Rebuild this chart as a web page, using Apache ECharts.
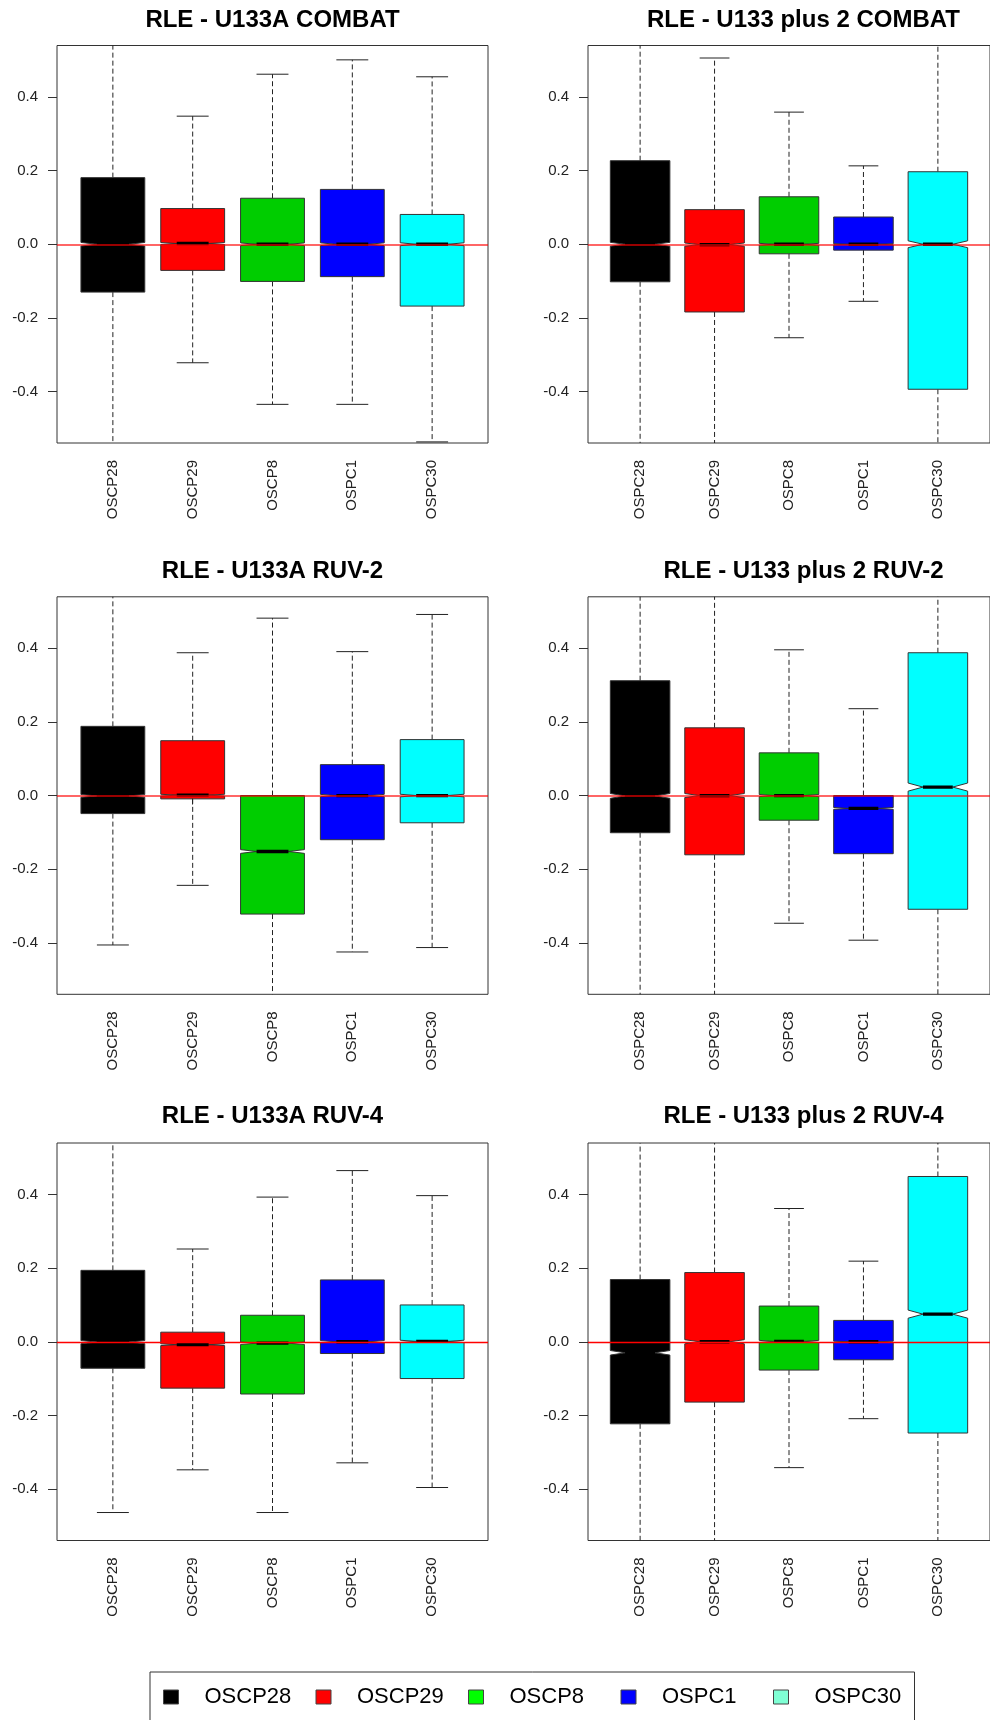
<!DOCTYPE html>
<html><head><meta charset="utf-8">
<script src="https://cdn.jsdelivr.net/npm/echarts@6/dist/echarts.min.js"></script>
<style>html,body{margin:0;padding:0;background:#fff}#c{width:990px;height:1720px}</style>
</head><body><div id="c"></div>
<script>
// ---------- data ----------
const leftCategories = ['OSCP28', 'OSCP29', 'OSCP8', 'OSPC1', 'OSPC30'];
const rightCategories = ['OSPC28', 'OSPC29', 'OSPC8', 'OSPC1', 'OSPC30'];
const legendNames = ['OSCP28', 'OSCP29', 'OSCP8', 'OSPC1', 'OSPC30'];
const boxColors = ['#000000', '#FF0000', '#00CD00', '#0000FF', '#00FFFF'];
const legendColors = ['#000000', '#FF0000', '#00FF00', '#0000FF', '#7FFFD4'];
const yTicks = [-0.4, -0.2, 0.0, 0.2, 0.4];
const panelTitles = [
  'RLE - U133A COMBAT', 'RLE - U133 plus 2 COMBAT',
  'RLE - U133A RUV-2', 'RLE - U133 plus 2 RUV-2',
  'RLE - U133A RUV-4', 'RLE - U133 plus 2 RUV-4'
];
// each row: [lower whisker, Q1, median, Q3, upper whisker]
const u133aCombat = [
  [-0.70, -0.130, 0.000, 0.181, 0.70],
  [-0.322, -0.071, 0.002, 0.097, 0.348],
  [-0.435, -0.101, 0.000, 0.125, 0.462],
  [-0.435, -0.088, 0.000, 0.149, 0.501],
  [-0.537, -0.168, 0.000, 0.081, 0.455]
];
const u133plus2Combat = [
  [-0.70, -0.102, 0.000, 0.227, 0.70],
  [-0.70, -0.184, -0.001, 0.094, 0.506],
  [-0.254, -0.026, 0.000, 0.129, 0.359],
  [-0.155, -0.016, 0.000, 0.074, 0.213],
  [-0.70, -0.394, 0.000, 0.197, 0.70]
];
const u133aRuv2 = [
  [-0.406, -0.049, -0.001, 0.188, 0.70],
  [-0.244, -0.009, 0.001, 0.149, 0.388],
  [-0.70, -0.322, -0.152, 0.000, 0.482],
  [-0.425, -0.120, 0.000, 0.084, 0.391],
  [-0.413, -0.074, 0.000, 0.152, 0.492]
];
const u133plus2Ruv2 = [
  [-0.70, -0.101, -0.001, 0.312, 0.70],
  [-0.70, -0.161, 0.000, 0.184, 0.70],
  [-0.347, -0.067, 0.000, 0.116, 0.396],
  [-0.393, -0.158, -0.035, 0.000, 0.236],
  [-0.70, -0.309, 0.023, 0.388, 0.70]
];
const u133aRuv4 = [
  [-0.464, -0.072, -0.001, 0.194, 0.70],
  [-0.348, -0.126, -0.008, 0.026, 0.252],
  [-0.464, -0.142, -0.004, 0.072, 0.393],
  [-0.329, -0.032, 0.000, 0.168, 0.465],
  [-0.396, -0.100, 0.001, 0.100, 0.397]
];
const u133plus2Ruv4 = [
  [-0.70, -0.223, -0.030, 0.169, 0.70],
  [-0.70, -0.164, 0.000, 0.188, 0.70],
  [-0.342, -0.077, 0.001, 0.097, 0.362],
  [-0.209, -0.049, 0.000, 0.058, 0.219],
  [-0.70, -0.248, 0.075, 0.449, 0.70]
];
const panels = [u133aCombat, u133plus2Combat, u133aRuv2, u133plus2Ruv2, u133aRuv4, u133plus2Ruv4];
const sampleSize = 10000;   // used for R-style notch half-height
const referenceLine = 0;

// ---------- layout ----------
const FONT = '"Liberation Sans", Arial, Helvetica, sans-serif';
const colLeft = [57, 588];
const rowTop = [45.5, 596.8, 1143];
const plotW = 431, plotH = 397.5;
const titleCenterY = [20, 571.7, 1116.7];
const zeroLineStyle = [
  { color: 'rgba(255,0,0,0.6)', width: 2 },
  { color: 'rgba(255,0,0,0.6)', width: 2 },
  { color: '#FF0000', width: 1.3 }
];
const halfBox = 0.4, halfStaple = 0.2;

function renderBox(params, api) {
  const x = api.value(0);
  const lo = api.value(1), q1 = api.value(2), med = api.value(3), q3 = api.value(4), hi = api.value(5);
  const nh = 1.58 * (q3 - q1) / Math.sqrt(sampleSize);
  const P = (xx, yy) => api.coord([xx, yy]);
  const col = boxColors[params.dataIndex];
  const kids = [];
  const seg = (a, b, style) => ({ type: 'line', shape: { x1: a[0], y1: a[1], x2: b[0], y2: b[1] }, style: style });
  const dash = { stroke: '#222', lineWidth: 1, lineDash: [5, 3] };
  const solid = { stroke: '#222', lineWidth: 1 };
  kids.push(seg(P(x, q3), P(x, hi), dash));
  kids.push(seg(P(x, q1), P(x, lo), dash));
  kids.push(seg(P(x - halfStaple, hi), P(x + halfStaple, hi), solid));
  kids.push(seg(P(x - halfStaple, lo), P(x + halfStaple, lo), solid));
  const pts = [
    [x - halfBox, q1], [x - halfBox, med - nh], [x - halfBox / 2, med], [x - halfBox, med + nh], [x - halfBox, q3],
    [x + halfBox, q3], [x + halfBox, med + nh], [x + halfBox / 2, med], [x + halfBox, med - nh], [x + halfBox, q1]
  ].map(p => P(p[0], p[1]));
  kids.push({ type: 'polygon', shape: { points: pts }, style: { fill: col, stroke: '#333', lineWidth: 1 } });
  kids.push(seg(P(x - halfBox / 2, med), P(x + halfBox / 2, med), { stroke: '#000', lineWidth: 3.3 }));
  return { type: 'group', children: kids };
}

const grid = [], xAxis = [], yAxis = [], series = [], title = [];
panels.forEach((panel, k) => {
  const col = k % 2, row = Math.floor(k / 2);
  const cats = col === 0 ? leftCategories : rightCategories;
  grid.push({ left: colLeft[col], top: rowTop[row], width: plotW, height: plotH, show: true,
    borderColor: '#333', borderWidth: 1, backgroundColor: 'transparent', containLabel: false });
  xAxis.push({ type: 'value', gridIndex: k, min: 0.3, max: 5.7, splitLine: { show: false },
    axisLine: { show: false },
    axisTick: { show: true, length: 9, lineStyle: { color: '#333' }, customValues: cats.map((c, i) => i + 1) },
    axisLabel: { show: true, rotate: 90, margin: 17, fontSize: 15, fontFamily: FONT, color: '#222',
      customValues: cats.map((c, i) => i + 1), formatter: v => cats[Math.round(v) - 1] || '' } });
  yAxis.push({ type: 'value', gridIndex: k, min: -0.54, max: 0.54, splitLine: { show: false },
    axisLine: { show: false },
    axisTick: { show: true, length: 9, lineStyle: { color: '#333' }, customValues: yTicks },
    axisLabel: { show: true, margin: 19, fontSize: 15, fontFamily: FONT, color: '#222',
      customValues: yTicks, formatter: v => v.toFixed(1) } });
  series.push({ type: 'custom', name: panelTitles[k], xAxisIndex: k, yAxisIndex: k, clip: true,
    renderItem: renderBox, encode: { x: 0, y: [1, 2, 3, 4, 5] },
    data: panel.map((r, i) => [i + 1].concat(r)),
    markLine: { silent: true, symbol: ['none', 'none'], label: { show: false }, animation: false,
      lineStyle: { color: zeroLineStyle[row].color, width: zeroLineStyle[row].width, type: 'solid' },
      data: [{ yAxis: referenceLine }] } });
  title.push({ text: panelTitles[k], left: colLeft[col] + plotW / 2, top: titleCenterY[row] - 12, textAlign: 'center',
    padding: 0, textStyle: { fontSize: 24, fontWeight: 'bold', fontFamily: FONT, color: '#000', lineHeight: 24 } });
});
legendNames.forEach((n, i) => {
  series.push({ type: 'custom', name: n, xAxisIndex: 0, yAxisIndex: 0, data: [], renderItem: () => null,
    itemStyle: { color: legendColors[i] } });
});

const option = {
  animation: false,
  backgroundColor: '#fff',
  title: title, grid: grid, xAxis: xAxis, yAxis: yAxis, series: series,
  legend: {
    data: legendNames.map((n, i) => ({ name: n, itemStyle: { color: legendColors[i], borderColor: '#444', borderWidth: 1 } })),
    left: 150, top: 1672, orient: 'horizontal', icon: 'rect', itemWidth: 15, itemHeight: 14, itemGap: 11,
    padding: [13, 0, 13, 13], borderColor: '#333', borderWidth: 1, selectedMode: false,
    textStyle: { fontSize: 22, fontFamily: FONT, color: '#000', width: 100, padding: [0, 0, 0, 21], lineHeight: 24 }
  }
};
const chart = echarts.init(document.getElementById('c'), null, { renderer: 'canvas' });
chart.setOption(option);
</script></body></html>
